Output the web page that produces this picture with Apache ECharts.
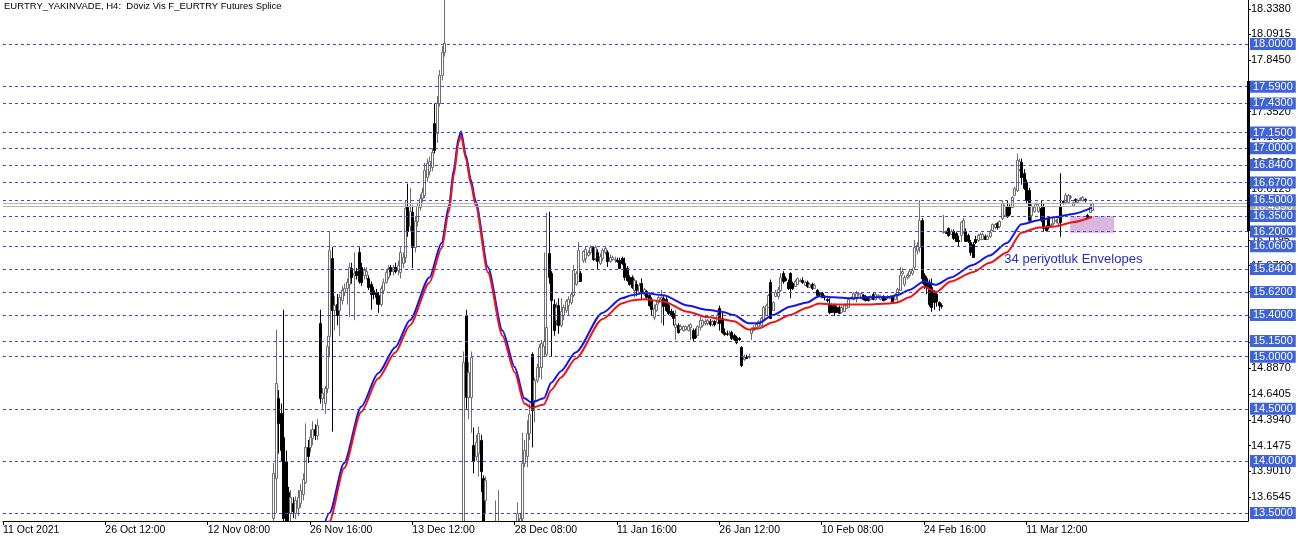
<!DOCTYPE html>
<html><head><meta charset="utf-8">
<script src="https://cdn.jsdelivr.net/npm/echarts@6/dist/echarts.min.js"></script>
<style>html,body{margin:0;padding:0;background:#fff}#c{width:1301px;height:539px}</style>
</head><body><div id="c"></div>
<script>
const chartTitle = 'EURTRY_YAKINVADE, H4:  Döviz Vis F_EURTRY Futures Splice';
const xLabels = ['11 Oct 2021','26 Oct 12:00','12 Nov 08:00','26 Nov 16:00','13 Dec 12:00','28 Dec 08:00','11 Jan 16:00','26 Jan 12:00','10 Feb 08:00','24 Feb 16:00','11 Mar 12:00'];
const barsPerLabel = 42;
const totalBars = 512;
const yMin = 13.4231, yMax = 18.4222;
const yTicks = [13.6545,13.9010,14.1475,14.3940,14.6405,14.8870,15.1335,15.3800,15.6265,15.8730,16.1195,16.3660,16.6125,16.8590,17.1055,17.3520,17.5985,17.8450,18.0915,18.3380];
const levels = [18.00,17.59,17.43,17.15,17.00,16.84,16.67,16.50,16.35,16.20,16.06,15.84,15.62,15.40,15.15,15.00,14.50,14.00,13.50];
const bidAsk = [16.471,16.439];
const axisBar = [17.645,16.205];

// candles: [open, close, low, high], consecutive bars from candleStart
const candleStart = 111;
const candlesNov = [
[13.45,13.88,13.35,13.98],[13.84,14.75,13.50,15.26],[14.60,14.36,14.07,14.68],[14.46,14.10,14.00,14.55],
[14.23,13.45,13.30,15.45],[14.00,13.40,13.30,14.10],[13.70,13.50,13.40,13.75],[13.50,13.65,13.42,13.72],
[13.60,13.52,13.45,13.65],[13.50,13.62,13.44,13.66],[13.55,13.65,13.47,13.72],[13.60,13.72,13.55,13.78],
[13.68,13.83,13.62,13.88],[13.80,14.13,13.78,14.36],[14.13,14.05,13.98,14.20],[14.13,14.23,14.08,14.30],
[14.22,14.31,14.15,14.38],[14.31,14.25,14.20,14.35],[14.25,14.34,14.20,14.40],[15.32,14.60,14.55,15.45],
[14.60,14.65,14.50,14.70],[14.56,14.70,14.45,14.72],[14.70,15.10,14.65,15.20],[15.20,16.02,15.00,16.20]
];
const candlesDec = [
[15.95,15.45,14.28,16.05],[15.45,15.50,15.25,15.58],[15.51,15.40,15.30,15.60],[15.45,15.57,15.20,15.60],
[15.54,15.64,15.50,15.68],[15.62,15.66,15.58,15.70],[15.66,15.72,15.50,15.75],[15.70,15.86,15.38,15.90],
[15.85,15.76,15.70,15.90],[15.78,15.80,15.35,16.00],[15.82,15.78,15.74,15.85],[16.00,15.73,15.70,16.05],
[15.86,15.72,15.68,15.90],[15.78,15.83,15.74,15.86],[15.78,15.82,15.74,15.86],[15.75,15.67,15.64,15.78],
[15.70,15.60,15.45,15.72],[15.64,15.60,15.55,15.67],[15.62,15.57,15.50,15.65],[15.59,15.51,15.42,15.62],
[15.51,15.66,15.48,15.68],[15.64,15.72,15.60,15.75],[15.72,15.81,15.70,15.84],[15.76,15.85,15.74,15.88],
[15.86,15.82,15.78,15.88],[15.82,15.86,15.78,15.88],[15.86,15.82,15.80,15.90],[15.83,15.88,15.78,15.92],
[15.81,16.00,15.75,16.05],[15.90,15.96,15.85,16.00],[15.96,16.43,15.90,16.50],[16.44,16.21,16.15,16.66],
[16.25,16.40,16.20,16.62],[16.39,16.05,15.85,16.45],[16.05,16.30,16.00,16.35],[16.30,16.45,16.25,16.48],
[16.44,16.52,16.40,16.56],[16.52,16.58,16.48,16.62],[16.55,16.79,16.52,16.86],[16.72,16.86,16.68,16.90],
[16.78,16.88,16.74,16.92],[16.82,16.96,16.78,17.00],[17.24,16.98,16.95,17.43],[17.15,17.43,17.05,17.50],
[17.43,17.70,17.40,17.75],[17.70,17.92,17.65,17.98],[17.92,18.01,17.88,18.60],[18.50,18.90,18.45,19.10],
[18.90,19.40,18.80,19.60],[19.40,19.90,19.20,20.20],[19.90,19.50,19.10,20.40],[19.50,19.20,18.90,19.80],
[19.20,18.80,18.60,19.50],[18.80,18.60,18.45,19.00]
];
const candlesCrash = [
[13.00,14.95,12.90,15.05],[15.40,14.61,14.50,15.45],[14.61,14.85,14.40,14.95],[14.61,15.00,14.27,15.05],
[14.15,14.00,13.88,14.32],[14.05,14.18,14.00,14.25],[14.08,14.27,13.85,14.33],[14.20,13.90,13.70,14.25],
[13.84,13.40,13.00,13.86],[13.62,13.82,13.50,13.85],[13.30,13.00,12.80,13.40],[13.00,13.10,12.70,13.30],
[13.10,12.90,12.60,13.35],[12.90,13.20,12.80,13.62],[13.20,13.30,13.00,13.72],[13.30,13.10,12.90,13.38],
[13.10,12.95,12.80,13.30],[12.95,13.05,12.85,13.25],[13.05,12.90,12.75,13.20],[12.90,13.15,12.85,13.30],
[13.15,13.25,13.05,13.38],[13.25,13.35,13.10,13.40],[13.20,13.50,13.10,13.60],[13.30,13.45,13.20,13.50],
[13.45,13.98,13.40,14.27],[13.98,14.10,13.94,14.20],[14.05,14.27,13.94,14.39],[14.27,14.45,14.20,14.55],
[15.03,14.49,14.13,15.04],[14.58,14.78,14.37,14.80],[14.78,14.90,14.75,14.93],[14.90,15.09,14.80,15.12],
[14.90,15.13,14.78,15.16],[15.10,15.15,15.00,16.00],[15.03,15.28,15.00,16.38],[15.99,15.76,15.70,16.39],
[15.80,15.54,15.00,15.82],[15.51,15.26,15.20,15.55],[15.35,15.48,15.30,15.52],[15.50,15.30,15.22,15.56],
[15.30,15.44,15.28,15.56],[15.40,15.48,15.35,15.50],[15.45,15.53,15.42,15.55],[15.50,15.55,15.40,15.58],
[15.52,15.60,15.50,15.62],[15.59,15.83,15.57,15.88],[15.70,15.80,15.68,15.82],[15.73,16.02,15.72,16.10],
[15.80,15.73,15.72,15.82]
];
const candlesJan = [
[15.93,16.01,15.90,16.02],[15.95,16.03,15.90,16.06],[15.98,16.00,15.96,16.02],[16.00,16.05,15.98,16.07],
[16.05,15.94,15.92,16.06],[15.95,16.05,15.92,16.07],[16.00,15.92,15.83,16.03],[15.90,15.97,15.88,15.99],
[15.95,16.02,15.92,16.04],[16.00,16.04,15.98,16.06],[16.00,15.92,15.86,16.02],[15.92,15.96,15.90,15.98],
[15.94,15.96,15.92,15.97],[15.93,15.94,15.90,15.96],[15.93,15.92,15.90,15.95],[15.93,15.85,15.84,15.95],
[15.95,15.90,15.88,15.96],[15.90,15.76,15.73,15.95],[15.85,15.74,15.72,15.87],[15.76,15.70,15.68,15.78],
[15.76,15.67,15.65,15.78],[15.64,15.74,15.57,15.75],[15.70,15.64,15.58,15.73],[15.62,15.69,15.60,15.71],
[15.71,15.62,15.55,15.75],[15.60,15.65,15.58,15.66],[15.63,15.57,15.55,15.64],[15.59,15.50,15.48,15.60],
[15.55,15.46,15.40,15.57],[15.38,15.47,15.35,15.50],[15.45,15.51,15.43,15.53],[15.52,15.57,15.50,15.59],
[15.55,15.57,15.32,15.64],[15.56,15.49,15.30,15.58],[15.55,15.45,15.43,15.57],[15.50,15.42,15.40,15.52],
[15.44,15.40,15.38,15.46],[15.42,15.37,15.30,15.44],[15.28,15.31,15.16,15.45],[15.30,15.24,15.22,15.32],
[15.27,15.29,15.25,15.31],[15.26,15.29,15.24,15.30],[15.27,15.29,15.25,15.30],[15.26,15.29,15.24,15.31],
[15.28,15.31,15.16,15.32],[15.26,15.18,15.14,15.27],[15.25,15.19,15.17,15.27],[15.21,15.29,15.20,15.30],
[15.28,15.35,15.25,15.38],[15.30,15.35,15.28,15.36],[15.32,15.34,15.30,15.36],[15.32,15.35,15.30,15.36],
[15.34,15.31,15.29,15.36],[15.31,15.34,15.29,15.35],[15.34,15.31,15.29,15.35],[15.33,15.40,15.31,15.42],
[15.47,15.32,15.25,15.49],[15.37,15.24,15.22,15.42],[15.24,15.22,15.20,15.27],[15.23,15.22,15.20,15.25],
[15.22,15.23,15.20,15.25],[15.24,15.18,15.16,15.25],[15.21,15.17,15.15,15.22],[15.19,15.14,15.12,15.20],
[15.18,15.17,15.15,15.19],[15.09,14.92,14.90,15.10],[14.98,15.00,14.96,15.02],[15.00,14.99,14.98,15.02],
[15.00,15.01,14.98,15.03]
];
const candlesFeb = [
[15.23,15.27,15.16,15.28],[15.26,15.28,15.24,15.30],[15.28,15.31,15.26,15.32],[15.29,15.34,15.28,15.35],
[15.30,15.37,15.29,15.38],[15.35,15.48,15.34,15.49],[15.40,15.50,15.39,15.51],[15.48,15.59,15.47,15.60],
[15.72,15.37,15.36,15.74],[15.45,15.52,15.44,15.53],[15.58,15.62,15.57,15.64],[15.58,15.65,15.55,15.67],
[15.64,15.76,15.62,15.80],[15.80,15.73,15.70,15.82],[15.75,15.74,15.72,15.77],[15.72,15.66,15.64,15.74],
[15.80,15.66,15.56,15.81],[15.71,15.66,15.64,15.72],[15.68,15.73,15.67,15.74],[15.70,15.75,15.69,15.76],
[15.73,15.74,15.72,15.75],[15.74,15.72,15.70,15.76],[15.69,15.72,15.68,15.73],[15.72,15.68,15.66,15.73],
[15.67,15.70,15.66,15.71],[15.70,15.66,15.64,15.71],[15.66,15.69,15.65,15.70],[15.64,15.59,15.58,15.65],
[15.61,15.60,15.58,15.62],[15.61,15.57,15.56,15.62],[15.58,15.57,15.54,15.59],[15.55,15.54,15.52,15.56],
[15.51,15.43,15.41,15.56],[15.50,15.43,15.42,15.51],[15.50,15.43,15.39,15.51],[15.48,15.43,15.42,15.49],
[15.48,15.42,15.41,15.49],[15.43,15.48,15.42,15.49],[15.44,15.50,15.43,15.51],[15.47,15.50,15.46,15.51],
[15.48,15.55,15.48,15.57],[15.56,15.57,15.55,15.58],[15.55,15.61,15.54,15.62],[15.56,15.61,15.52,15.63],
[15.60,15.61,15.58,15.62],[15.56,15.61,15.55,15.62],[15.59,15.55,15.54,15.60],[15.58,15.54,15.53,15.59],
[15.57,15.54,15.53,15.58],[15.55,15.58,15.54,15.59],[15.60,15.55,15.54,15.61],[15.55,15.60,15.54,15.61],
[15.58,15.59,15.57,15.60],[15.55,15.58,15.54,15.59],[15.58,15.54,15.53,15.59],[15.56,15.55,15.54,15.57],
[15.56,15.58,15.55,15.59],[15.56,15.58,15.55,15.59],[15.57,15.53,15.52,15.58],[15.55,15.60,15.54,15.61],
[15.60,15.65,15.52,15.66],[15.64,15.78,15.63,15.86],[15.80,15.82,15.78,15.85],[15.70,15.76,15.67,15.78],
[15.76,15.78,15.74,15.80],[15.78,15.82,15.76,15.84],[15.80,15.83,15.78,15.85],[15.86,16.05,15.83,16.12],
[16.02,16.07,15.98,16.10],[16.05,16.31,16.00,16.50],[16.31,15.75,15.70,16.33],[15.78,15.70,15.65,15.80],
[15.75,15.67,15.60,15.77],[15.72,15.51,15.48,15.74],[15.67,15.48,15.43,15.75],[15.62,15.52,15.45,15.64],
[15.60,15.53,15.48,15.62],[15.52,15.50,15.44,15.53],[15.50,15.49,15.46,15.51]
];
const candlesMar = [
[16.20,16.21,16.18,16.36],[16.20,16.19,16.18,16.21],[16.23,16.17,16.15,16.24],[16.18,16.21,16.17,16.22],
[16.21,16.14,16.12,16.22],[16.19,16.11,16.10,16.20],[16.12,16.11,16.06,16.16],[16.17,16.29,16.10,16.30],
[16.20,16.31,16.18,16.33],[16.21,16.11,16.10,16.23],[16.17,16.11,16.09,16.18],[16.10,16.00,15.97,16.12],
[16.08,15.96,15.95,16.10],[16.13,16.10,16.08,16.16],[16.12,16.17,16.10,16.18],[16.13,16.18,16.12,16.19],
[16.13,16.18,16.12,16.19],[16.16,16.13,16.12,16.17],[16.13,16.16,16.12,16.17],[16.16,16.20,16.14,16.22],
[16.22,16.27,16.20,16.28],[16.24,16.27,16.22,16.28],[16.28,16.24,16.22,16.29],[16.25,16.30,16.23,16.31],
[16.33,16.47,16.31,16.50],[16.36,16.45,16.34,16.46],[16.45,16.35,16.33,16.50],[16.45,16.37,16.35,16.46],
[16.44,16.53,16.43,16.54],[16.55,16.62,16.54,16.63],[16.60,16.89,16.58,16.95],[16.80,16.88,16.78,16.90],
[16.87,16.72,16.65,16.90],[16.76,16.62,16.60,16.80],[16.68,16.50,16.47,16.70],[16.60,16.31,16.28,16.62],
[16.36,16.45,16.30,16.46],[16.40,16.44,16.38,16.46],[16.46,16.47,16.44,16.48],[16.40,16.45,16.38,16.47],
[16.43,16.31,16.29,16.50],[16.45,16.23,16.20,16.47],[16.24,16.22,16.20,16.26],[16.33,16.24,16.22,16.34],
[16.26,16.27,16.24,16.28],[16.28,16.34,16.26,16.35],[16.30,16.31,16.28,16.32],[16.28,16.34,16.26,16.35],
[16.45,16.29,16.15,16.76],[16.49,16.48,16.46,16.50],[16.48,16.55,16.46,16.57],[16.48,16.55,16.47,16.56],
[16.53,16.54,16.51,16.55],[16.45,16.48,16.44,16.49],[16.51,16.50,16.48,16.52],[16.48,16.50,16.47,16.51],
[16.51,16.52,16.49,16.53],[16.50,16.53,16.49,16.54],[16.51,16.50,16.48,16.52],[16.36,16.34,16.32,16.37],
[16.39,16.45,16.38,16.47],[16.41,16.47,16.40,16.48]
];

// 34-period envelopes, sampled along the bars
const envIdx   = [130,134,140,147,154,161,167,175,180,183,185,187,188,190,192,194,199,205,210,214,217,222,225,229,235,246,254,258,263,271,281,289,295,300,306,310,316,323,330,335,341,348,355,363,367,372,378,383,389,398,405,412,418,425,432,439,447];
const envUpper = [13.23,13.50,13.98,14.52,14.84,15.09,15.35,15.76,16.09,16.44,16.79,17.10,17.16,16.93,16.70,16.49,15.86,15.25,14.90,14.60,14.56,14.60,14.75,14.86,15.04,15.42,15.56,15.59,15.61,15.59,15.49,15.45,15.43,15.40,15.32,15.32,15.40,15.48,15.52,15.58,15.57,15.56,15.57,15.57,15.59,15.64,15.72,15.69,15.76,15.88,15.97,16.09,16.27,16.31,16.34,16.37,16.43];
const envLower = [13.10,13.42,13.93,14.47,14.79,15.04,15.30,15.71,16.04,16.39,16.74,17.06,17.12,16.90,16.66,16.45,15.81,15.20,14.85,14.55,14.51,14.54,14.68,14.80,14.98,15.36,15.51,15.54,15.55,15.53,15.43,15.38,15.36,15.34,15.26,15.27,15.33,15.40,15.47,15.51,15.50,15.50,15.50,15.51,15.52,15.57,15.67,15.62,15.72,15.81,15.90,16.00,16.19,16.24,16.25,16.29,16.34];

const noteText = '34 periyotluk Envelopes';
const notePos = [411, 15.93];
const zoneX = [438, 456];
const zoneY = [16.35, 16.19];

const allCandles = [].concat(candlesNov, candlesDec, candlesCrash, candlesJan, candlesFeb, candlesMar);
const candleRows = allCandles.map((c, k) => [candleStart + k, c[0], c[1], c[2], c[3]]);
const cats = Array.from({length: totalBars}, (_, i) => String(i));
const showIdx = (i) => i % barsPerLabel === 0 && i / barsPerLabel < xLabels.length;
const FONT = 'Liberation Sans';
const UP_EDGE = '#6e6e6e';

function renderCandle(params, api) {
  const idx = api.value(0), o = api.value(1), c = api.value(2), l = api.value(3), h = api.value(4);
  const pO = api.coord([idx, o]), pC = api.coord([idx, c]);
  const pL = api.coord([idx, l]), pH = api.coord([idx, h]);
  const xi = Math.round(pO[0]);
  const up = c >= o;
  const top = Math.round(Math.min(pO[1], pC[1]));
  const bot = Math.round(Math.max(pO[1], pC[1]));
  const edge = up ? UP_EDGE : '#000';
  return {
    type: 'group',
    children: [
      {type: 'line', shape: {x1: xi + 0.5, y1: pH[1], x2: xi + 0.5, y2: pL[1]}, style: {stroke: edge, lineWidth: 1}},
      {type: 'rect', shape: {x: xi - 0.5, y: top + 0.5, width: 2, height: Math.max(bot - top, 0)},
        style: {fill: up ? '#fff' : '#000', stroke: edge, lineWidth: 1}}
    ]
  };
}

const chart = echarts.init(document.getElementById('c'), null, {renderer: 'canvas'});
chart.setOption({
  animation: false,
  backgroundColor: '#fff',
  title: {text: chartTitle, left: 2, top: 0, padding: [1, 2, 0, 2],
    textStyle: {fontSize: 9.5, fontWeight: 'normal', fontFamily: FONT, color: '#000'}},
  grid: {left: 0, right: 53, top: 0, bottom: 18},
  xAxis: {
    type: 'category', data: cats, boundaryGap: false,
    axisLine: {lineStyle: {color: '#000', width: 1}},
    axisTick: {interval: (i) => showIdx(i), length: 4, lineStyle: {color: '#000'}},
    axisLabel: {interval: (i) => showIdx(i), formatter: (v, i) => xLabels[i / barsPerLabel] || '',
      align: 'left', margin: 4, color: '#000', fontSize: 10.5, fontFamily: FONT},
    splitLine: {show: false}
  },
  yAxis: {
    type: 'value', position: 'right', min: yMin, max: yMax, scale: true,
    axisLine: {show: true, lineStyle: {color: '#000', width: 1}},
    axisTick: {show: true, customValues: yTicks, length: 3, lineStyle: {color: '#000'}},
    axisLabel: {customValues: yTicks, formatter: (v) => v.toFixed(4), color: '#000', fontSize: 11, fontFamily: FONT, margin: 3},
    splitLine: {show: false}
  },
  series: [
    {
      type: 'line', data: [], z: 1, silent: true,
      markArea: {silent: true, itemStyle: {color: '#d9b8dd'},
        data: [[{coord: [zoneX[0], zoneY[0]]}, {coord: [zoneX[1], zoneY[1]]}]]},
      markLine: {silent: true, symbol: ['none', 'none'],
        data: bidAsk.map((v, k) => ({yAxis: v, lineStyle: {color: '#b4b4b4', type: 'solid', width: 1},
          label: {show: k === 1, position: 'end', distance: 2, formatter: () => v.toFixed(4), color: '#fff',
            backgroundColor: '#a8a8a8', padding: [1, 3, 0, 3], fontSize: 11, fontFamily: FONT}}))}
    },
    {
      type: 'line', data: [], z: 2, silent: true,
      markLine: {silent: true, symbol: ['none', 'none'],
        lineStyle: {color: '#4646c4', type: [3, 3], width: 1},
        label: {show: true, position: 'end', distance: 2, formatter: (p) => Number(p.value).toFixed(4),
          color: '#fff', backgroundColor: '#3f63d8', padding: [1, 3, 0, 3], fontSize: 11, fontFamily: FONT},
        data: levels.map((v) => ({yAxis: v}))},
      markPoint: {silent: true, symbol: 'circle', symbolSize: 0,
        label: {show: true, position: 'right', distance: 0, formatter: noteText, color: '#2a2ac8', fontSize: 13, fontFamily: FONT},
        data: [{coord: notePos}]}
    },
    {
      type: 'custom', z: 3, silent: true, clip: true,
      renderItem: renderCandle,
      encode: {x: 0, y: [1, 2, 3, 4]},
      data: candleRows
    },
    {
      type: 'line', z: 4, silent: true, showSymbol: false, smooth: 0.25, smoothMonotone: 'x', clip: true,
      data: envIdx.map((x, k) => [x, envUpper[k]]),
      lineStyle: {color: '#1414ee', width: 2}
    },
    {
      type: 'line', z: 4, silent: true, showSymbol: false, smooth: 0.25, smoothMonotone: 'x', clip: true,
      data: envIdx.map((x, k) => [x, envLower[k]]),
      lineStyle: {color: '#ee1414', width: 2},
      markLine: {silent: true, symbol: ['none', 'none'], label: {show: false},
        lineStyle: {color: '#000', type: 'solid', width: 3},
        data: [[{coord: [totalBars - 1, axisBar[0]]}, {coord: [totalBars - 1, axisBar[1]]}]]}
    }
  ]
});
</script></body></html>
